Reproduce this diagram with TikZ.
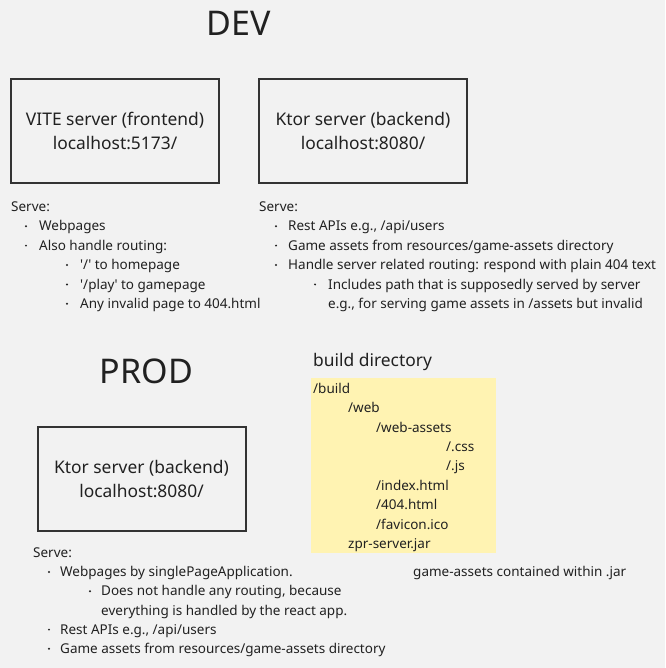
\documentclass[tikz,border=0pt]{standalone}
\usepackage{fontspec}
\setmainfont{Noto Sans}
\definecolor{bgcolor}{rgb}{0.949,0.949,0.949}
\definecolor{inkcolor}{rgb}{0.130,0.130,0.130}
\definecolor{boxcolor}{rgb}{0.200,0.200,0.200}
\definecolor{notecolor}{rgb}{1.000,0.953,0.700}

\begin{document}
\begin{tikzpicture}[x=1pt,y=-1pt,
  every node/.style={text=inkcolor},
  srvbox/.style={draw=boxcolor,line width=2pt,minimum width=208pt,minimum height=104pt,align=center,inner sep=0pt,font=\fontsize{17.4}{23.6}\selectfont},
  title/.style={anchor=base,inner sep=0pt,font=\fontsize{34}{40}\selectfont},
  head/.style={anchor=base west,inner sep=0pt,font=\fontsize{17.4}{22}\selectfont},
  txt/.style={anchor=base west,inner sep=0pt,font=\fontsize{13.5}{19.4}\selectfont},
  dot/.style={fill=inkcolor}]
% background
\fill[bgcolor] (0,0) rectangle (665,668);
\useasboundingbox (0,0) rectangle (665,668);

% DEV
\node[title] (dev) at (239,36) {DEV};
\node[srvbox] (vite) at (115,131) {VITE server (frontend)\\localhost:5173/};
\node[srvbox] (ktordev) at (363,131) {Ktor server (backend)\\localhost:8080/};

% frontend list
\node[txt] (viteserve) at (11,211.5) {Serve:};
\node[txt] (vitea) at (39,230.9) {Webpages};
\node[txt] (viteb) at (39,250.3) {Also handle routing:};
\node[txt] (vitec) at (80,269.7) {\textquotesingle/\textquotesingle{} to homepage};
\node[txt] (vited) at (80,289.1) {\textquotesingle/play\textquotesingle{} to gamepage};
\node[txt] (vitee) at (80,308.5) {Any invalid page to 404.html};
\foreach \y in {230.9,250.3} \fill[dot] (26,\y-4.7) circle (1.1pt);
\foreach \y in {269.7,289.1,308.5} \fill[dot] (67,\y-4.7) circle (1.1pt);

% backend list
\node[txt] (ktorserve) at (259,211.5) {Serve:};
\node[txt] (ktora) at (288,230.9) {Rest APIs e.g., /api/users};
\node[txt] (ktorb) at (288,250.3) {Game assets from resources/game-assets directory};
\node[txt] (ktorc) at (288,269.7) {Handle server related routing: respond with plain 404 text};
\node[txt] (ktord) at (328,289.1) {Includes path that is supposedly served by server};
\node[txt] (ktore) at (328,308.5) {e.g., for serving game assets in /assets but invalid};
\foreach \y in {230.9,250.3,269.7} \fill[dot] (276,\y-4.7) circle (1.1pt);
\fill[dot] (315,289.1-4.7) circle (1.1pt);

% PROD
\node[title] (prod) at (146.5,383.3) {PROD};
\node[srvbox] (ktorprod) at (141.5,479) {Ktor server (backend)\\localhost:8080/};

% build directory
\node[head] (builddir) at (313,366) {build directory};
\fill[notecolor] (311,378) rectangle (496,553);
\node[txt] (fbuild) at (313,393.3) {/build};
\node[txt] (fweb) at (348,412.7) {/web};
\node[txt] (fassets) at (376,432.1) {/web-assets};
\node[txt] (fcss) at (446,451.5) {/.css};
\node[txt] (fjs) at (446,470.9) {/.js};
\node[txt] (findex) at (376,490.3) {/index.html};
\node[txt] (f404) at (376,509.7) {/404.html};
\node[txt] (ffav) at (376,529.1) {/favicon.ico};
\node[txt] (fjar) at (348,548.5) {zpr-server.jar};

% prod list
\node[txt] (prodserve) at (33,557.5) {Serve:};
\node[txt] (proda) at (60,576.7) {Webpages by singlePageApplication.};
\node[txt] (prodb) at (101,595.9) {Does not handle any routing, because};
\node[txt] (prodc) at (101,615.1) {everything is handled by the react app.};
\node[txt] (prodd) at (60,634.3) {Rest APIs e.g., /api/users};
\node[txt] (prode) at (60,653.5) {Game assets from resources/game-assets directory};
\foreach \y in {576.7,634.3,653.5} \fill[dot] (49,\y-4.7) circle (1.1pt);
\fill[dot] (90,595.9-4.7) circle (1.1pt);

\node[txt] (jarnote) at (413,576.7) {game-assets contained within .jar};
\end{tikzpicture}
\end{document}
